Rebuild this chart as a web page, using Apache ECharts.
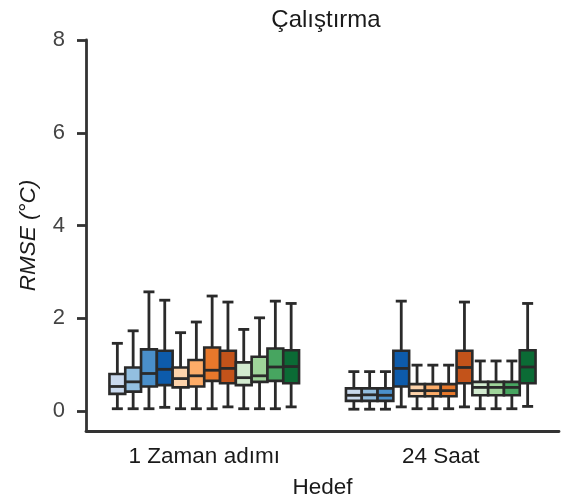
<!DOCTYPE html>
<html>
<head>
<meta charset="utf-8">
<script src="https://cdn.jsdelivr.net/npm/echarts@6/dist/echarts.min.js"></script>
<style>
html,body{margin:0;padding:0;background:#fff;}
#chart{width:562px;height:504px;}
</style>
</head>
<body>
<div id="chart"></div>
<script>
// Categories and tick labels
const categories = ['1 Zaman adımı', '24 Saat'];
const yTicks = [0, 2, 4, 6, 8];

// Each series: per category [min, Q1, median, Q3, max]
const blue1   = [[0.05, 0.37, 0.53, 0.80, 1.46], [0.04, 0.22, 0.34, 0.49, 0.85]];
const blue2   = [[0.05, 0.42, 0.63, 0.94, 1.73], [0.04, 0.22, 0.35, 0.49, 0.85]];
const blue3   = [[0.05, 0.53, 0.81, 1.33, 2.57], [0.04, 0.22, 0.34, 0.49, 0.85]];
const blue4   = [[0.08, 0.56, 0.90, 1.30, 2.39], [0.09, 0.53, 0.92, 1.30, 2.37]];
const orange1 = [[0.05, 0.51, 0.70, 0.94, 1.69], [0.05, 0.32, 0.44, 0.58, 0.99]];
const orange2 = [[0.05, 0.53, 0.76, 1.10, 1.92], [0.05, 0.32, 0.44, 0.58, 0.99]];
const orange3 = [[0.05, 0.65, 0.88, 1.37, 2.48], [0.05, 0.32, 0.44, 0.58, 0.99]];
const orange4 = [[0.09, 0.60, 0.92, 1.30, 2.35], [0.09, 0.60, 0.94, 1.30, 2.35]];
const green1  = [[0.05, 0.56, 0.72, 1.05, 1.76], [0.05, 0.34, 0.51, 0.63, 1.08]];
const green2  = [[0.05, 0.63, 0.76, 1.17, 2.01], [0.05, 0.34, 0.51, 0.63, 1.08]];
const green3  = [[0.05, 0.65, 0.95, 1.35, 2.37], [0.05, 0.34, 0.51, 0.63, 1.08]];
const green4  = [[0.09, 0.60, 0.96, 1.31, 2.32], [0.10, 0.60, 0.95, 1.31, 2.32]];

const seriesData = [blue1, blue2, blue3, blue4, orange1, orange2, orange3, orange4, green1, green2, green3, green4];
const seriesColors = ['#c9d9ee', '#93bfe0', '#4a8fca', '#0d5bab',
                      '#fdd3ab', '#fdac68', '#e8782b', '#c3531a',
                      '#d3ebd0', '#9fd49a', '#47a560', '#0b6b35'];

const FONT = '"Liberation Sans", Arial, sans-serif';
const EDGE = '#2a2a2a';
const STEP = 15.8;
const BOXW = 15.8;
const CAPW = 11;
const n = seriesData.length;

function makeRender(idx, fill) {
  return function (params, api) {
    const cat = api.value(0);
    const off = (idx - (n - 1) / 2) * STEP;
    const pMin = api.coord([cat, api.value(1)]);
    const pQ1 = api.coord([cat, api.value(2)]);
    const pMed = api.coord([cat, api.value(3)]);
    const pQ3 = api.coord([cat, api.value(4)]);
    const pMax = api.coord([cat, api.value(5)]);
    const cx = pMin[0] + off;
    const lineStyle = { stroke: EDGE, lineWidth: 2.8 };
    return {
      type: 'group',
      children: [
        { type: 'line', shape: { x1: cx, y1: pMax[1], x2: cx, y2: pQ3[1] }, style: lineStyle },
        { type: 'line', shape: { x1: cx, y1: pQ1[1], x2: cx, y2: pMin[1] }, style: lineStyle },
        { type: 'line', shape: { x1: cx - CAPW / 2, y1: pMax[1], x2: cx + CAPW / 2, y2: pMax[1] }, style: lineStyle },
        { type: 'line', shape: { x1: cx - CAPW / 2, y1: pMin[1], x2: cx + CAPW / 2, y2: pMin[1] }, style: lineStyle },
        { type: 'rect', shape: { x: cx - BOXW / 2, y: pQ3[1], width: BOXW, height: pQ1[1] - pQ3[1] },
          style: { fill: fill, stroke: EDGE, lineWidth: 2.6 } },
        { type: 'line', shape: { x1: cx - BOXW / 2, y1: pMed[1], x2: cx + BOXW / 2, y2: pMed[1] }, style: lineStyle }
      ]
    };
  };
}

const series = seriesData.map(function (arr, i) {
  return {
    type: 'custom',
    renderItem: makeRender(i, seriesColors[i]),
    clip: false,
    encode: { x: 0, y: [1, 2, 3, 4, 5] },
    data: arr.map(function (v, c) { return [c].concat(v); })
  };
});

const chart = echarts.init(document.getElementById('chart'), null, { renderer: 'canvas' });
chart.setOption({
  animation: false,
  backgroundColor: '#ffffff',
  title: {
    text: 'Çalıştırma',
    left: 321,
    textAlign: 'center',
    top: 3,
    textStyle: { fontFamily: FONT, fontSize: 24, fontWeight: 'normal', color: '#1a1a1a' }
  },
  grid: { left: 86, right: 3, top: 40, bottom: 72, containLabel: false },
  xAxis: {
    type: 'category',
    data: categories,
    name: 'Hedef',
    nameLocation: 'middle',
    nameGap: 45,
    nameTextStyle: { fontFamily: FONT, fontSize: 22.5, color: '#1a1a1a' },
    axisLine: { onZero: false, lineStyle: { color: '#333', width: 2.8 } },
    axisTick: { alignWithLabel: true, length: 9, lineStyle: { color: '#333', width: 2.8 } },
    axisLabel: { fontFamily: FONT, fontSize: 22.5, color: '#1a1a1a', margin: 14 },
    splitLine: { show: false }
  },
  yAxis: {
    type: 'value',
    min: -0.43,
    max: 8,
    name: 'RMSE (°C)',
    nameLocation: 'middle',
    nameGap: 46,
    nameTextStyle: { fontFamily: FONT, fontSize: 22.5, fontStyle: 'italic', color: '#1a1a1a' },
    axisLine: { show: true, lineStyle: { color: '#333', width: 2.8 } },
    axisTick: { show: true, length: 9, customValues: yTicks, lineStyle: { color: '#333', width: 2.8 } },
    axisLabel: { fontFamily: FONT, fontSize: 22, color: '#444', margin: 21, customValues: yTicks },
    splitLine: { show: false }
  },
  series: series
});
</script>
</body>
</html>
